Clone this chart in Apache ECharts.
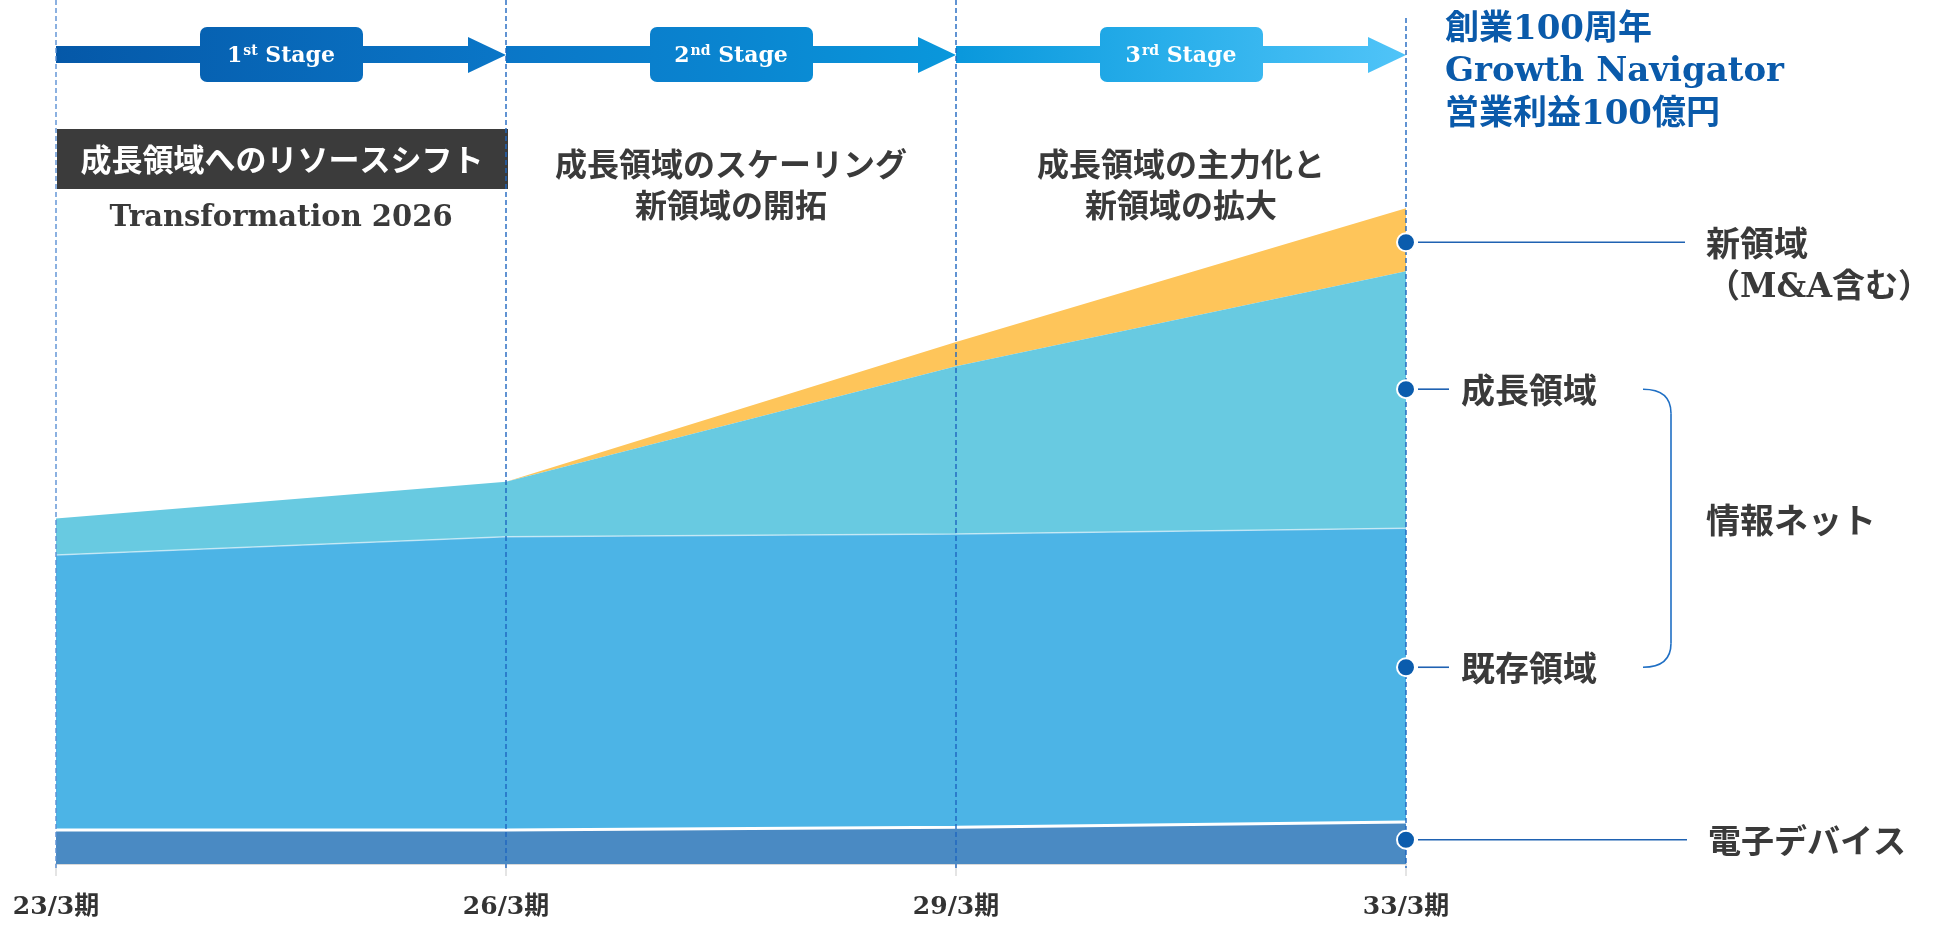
<!DOCTYPE html>
<html>
<head>
<meta charset="utf-8">
<title>Growth Navigator</title>
<script src="https://cdn.jsdelivr.net/npm/echarts@6/dist/echarts.min.js"></script>
<style>
  html, body { margin: 0; padding: 0; background: #fff; }
  #main { width: 1933px; height: 925px; }
</style>
</head>
<body>
<div id="main"></div>
<script>
// 期ごとの営業利益の内訳（億円、図から読み取り）
const categories = ['23/3期', '26/3期', '29/3期', '33/3期']
const electronics = [5.2, 5.2, 5.6, 6.4]    // 電子デバイス
const existing = [41.9, 44.7, 44.7, 44.8]   // 既存領域
const growth = [5.6, 8.4, 25.6, 39.2]       // 成長領域
const newArea = [0, 0, 3.7, 9.6]            // 新領域（M&A含む）
// 33/3期の注記マーカー位置（値）
const markerAt = [3.7, 30.0, 72.4, 94.8]
const markerNames = ['電子デバイス', '既存領域', '成長領域', '新領域']
const stages = [['1', 'st'], ['2', 'nd'], ['3', 'rd']]

const FONT_JP = '"Noto Sans CJK JP", sans-serif'
const FONT_SERIF = '"DejaVu Serif", "Noto Sans CJK JP", serif'
const TEXT = '#3a3a3a'
const NAVY = '#0b5cad'

const chart = echarts.init(document.getElementById('main'))

function area(name, data, color, z, line) {
  return {
    name, type: 'line', stack: 'total', data, z,
    symbol: 'none', silent: true,
    lineStyle: line || { width: 0 },
    areaStyle: { color, opacity: 1 },
    emphasis: { disabled: true },
  }
}

chart.setOption({
  animation: false,
  grid: { left: 56, right: 527, top: 77, bottom: 61 },
  xAxis: {
    type: 'category', data: categories, boundaryGap: false,
    axisLine: { lineStyle: { color: '#d9d9d9', width: 2 } },
    axisTick: { show: true, length: 12, lineStyle: { color: '#dcdcdc', width: 1.5 } },
    axisLabel: { margin: 30, fontSize: 25, fontWeight: 'bold', color: '#333',
      fontFamily: FONT_SERIF, lineHeight: 26 },
    splitLine: { show: false },
  },
  yAxis: { type: 'value', min: 0, max: 120, show: false },
  series: [
    area('電子デバイス', electronics, '#4a8ac3', 6, { color: '#fff', width: 3 }),
    area('既存領域', existing, '#4cb4e6', 5, { color: 'rgba(255,255,255,0.55)', width: 1.5 }),
    area('成長領域', growth, '#68cae1', 4),
    area('新領域', newArea, '#fec55a', 3),
    {
      name: 'marker', type: 'scatter', z: 10, silent: true,
      data: markerAt.map(v => [categories[3], v]),
      symbolSize: 18,
      itemStyle: { color: NAVY, borderColor: '#fff', borderWidth: 2, opacity: 1 },
    },
  ],
})

// 装飾（矢印・見出し・注記）はカテゴリ位置から配置
const xs = categories.map(c => chart.convertToPixel({ xAxisIndex: 0 }, c))
const yOf = v => chart.convertToPixel({ yAxisIndex: 0 }, v)
const grad = {
  type: 'linear', x: xs[0], y: 0, x2: xs[3], y2: 0, global: true,
  colorStops: [
    { offset: 0, color: '#0558a8' }, { offset: 0.33, color: '#0a76c7' },
    { offset: 0.5, color: '#0a85d0' }, { offset: 0.67, color: '#0a98dc' },
    { offset: 0.82, color: '#28aeea' }, { offset: 1, color: '#50c4f8' },
  ],
}

const g = []
xs.forEach((x, i) => {
  g.push({ type: 'line', silent: true, z: 8,
    shape: { x1: x, y1: i === 3 ? 18 : 0, x2: x, y2: 868 },
    style: { stroke: i === 0 ? '#5b90d4' : '#1f66c0', lineWidth: 1.4, lineDash: [5, 3] } })
})

stages.forEach(([n, sup], i) => {
  const x0 = xs[i], x1 = xs[i + 1], cx = (x0 + x1) / 2
  g.push({ type: 'rect', silent: true, shape: { x: x0, y: 46, width: x1 - 38 - x0, height: 17 }, style: { fill: grad } })
  g.push({ type: 'polygon', silent: true, shape: { points: [[x1 - 38, 37], [x1, 55], [x1 - 38, 73]] }, style: { fill: grad } })
  g.push({ type: 'rect', silent: true, shape: { x: cx - 81, y: 27, width: 163, height: 55, r: 7 }, style: { fill: grad } })
  g.push({ type: 'text', silent: true, x: cx, y: 56, z: 2,
    style: {
      text: `{n|${n}}{s|${sup}}{n| Stage}`, textAlign: 'center', textVerticalAlign: 'middle',
      rich: {
        n: { fontSize: 22, fontWeight: 'bold', fontFamily: FONT_SERIF, fill: '#fff', color: '#fff' },
        s: { fontSize: 14, fontWeight: 'bold', fontFamily: FONT_SERIF, fill: '#fff', color: '#fff', padding: [0, 0, 9, 1] },
      },
    } })
})

// 第1段階見出し
g.push({ type: 'rect', silent: true, shape: { x: xs[0] + 1, y: 129, width: xs[1] - xs[0] + 1, height: 60 }, style: { fill: '#3b3b3b' } })
g.push({ type: 'text', silent: true, x: (xs[0] + xs[1]) / 2 + 1, y: 159,
  style: { text: '成長領域へのリソースシフト', fill: '#fff', fontSize: 31, fontWeight: 'bold', fontFamily: FONT_JP,
    textAlign: 'center', textVerticalAlign: 'middle' } })
g.push({ type: 'text', silent: true, x: (xs[0] + xs[1]) / 2, y: 218,
  style: { text: 'Transformation 2026', fill: TEXT, fontSize: 29, fontWeight: 'bold', fontFamily: FONT_SERIF,
    textAlign: 'center', textVerticalAlign: 'middle' } })

const stageHeads = ['成長領域のスケーリング\n新領域の開拓', '成長領域の主力化と\n新領域の拡大']
stageHeads.forEach((t, i) => {
  g.push({ type: 'text', silent: true, x: (xs[i + 1] + xs[i + 2]) / 2, y: 184,
    style: { text: t, fill: TEXT, fontSize: 32, fontWeight: 'bold', fontFamily: FONT_JP, lineHeight: 41,
      textAlign: 'center', textVerticalAlign: 'middle' } })
})

// 右上の目標
;['創業100周年', 'Growth Navigator', '営業利益100億円'].forEach((t, i) => {
  g.push({ type: 'text', silent: true, x: 1445, y: 30 + i * 42.5,
    style: { text: t, fill: '#0a5aaa', fontSize: 34, fontWeight: 'bold', fontFamily: FONT_SERIF,
      textAlign: 'left', textVerticalAlign: 'middle' } })
})

// 注記ラベル
const labelLayout = [
  { lineEnd: 1687, tx: 1708, size: 33 },
  { lineEnd: 1449, tx: 1461, size: 34 },
  { lineEnd: 1449, tx: 1461, size: 34 },
  { lineEnd: 1685, tx: 1706, size: 34 },
]
const dotY = markerAt.map(yOf)
markerNames.forEach((name, i) => {
  const y = dotY[i], L = labelLayout[i]
  g.push({ type: 'line', silent: true, z: 7, shape: { x1: xs[3] + 12, y1: y, x2: L.lineEnd, y2: y },
    style: { stroke: '#1f62b2', lineWidth: 1.6 } })
  g.push({ type: 'text', silent: true, x: L.tx, y: y + 1,
    style: { text: name, fill: TEXT, fontSize: L.size, fontWeight: 'bold', fontFamily: FONT_JP,
      textAlign: 'left', textVerticalAlign: 'middle' } })
})
g.push({ type: 'text', silent: true, x: 1931, y: dotY[3] + 46,
  style: { text: '（M&A含む）', fill: TEXT, fontSize: 33, fontWeight: 'bold', fontFamily: FONT_SERIF,
    textAlign: 'right', textVerticalAlign: 'middle' } })

// 情報ネットの括弧
const bTop = dotY[2], bBot = dotY[1], bx0 = 1643, bx1 = 1671, br = 24
const bStyle = { stroke: '#1f6fc4', lineWidth: 1.6, fill: null }
g.push({ type: 'bezierCurve', silent: true, shape: { x1: bx0, y1: bTop, x2: bx1, y2: bTop + br, cpx1: bx1, cpy1: bTop }, style: bStyle })
g.push({ type: 'line', silent: true, shape: { x1: bx1, y1: bTop + br, x2: bx1, y2: bBot - br }, style: bStyle })
g.push({ type: 'bezierCurve', silent: true, shape: { x1: bx1, y1: bBot - br, x2: bx0, y2: bBot, cpx1: bx1, cpy1: bBot }, style: bStyle })
g.push({ type: 'text', silent: true, x: 1706, y: (bTop + bBot) / 2 - 8,
  style: { text: '情報ネット', fill: TEXT, fontSize: 34, fontWeight: 'bold', fontFamily: FONT_JP,
    textAlign: 'left', textVerticalAlign: 'middle' } })

chart.setOption({ graphic: g })
</script>
</body>
</html>
